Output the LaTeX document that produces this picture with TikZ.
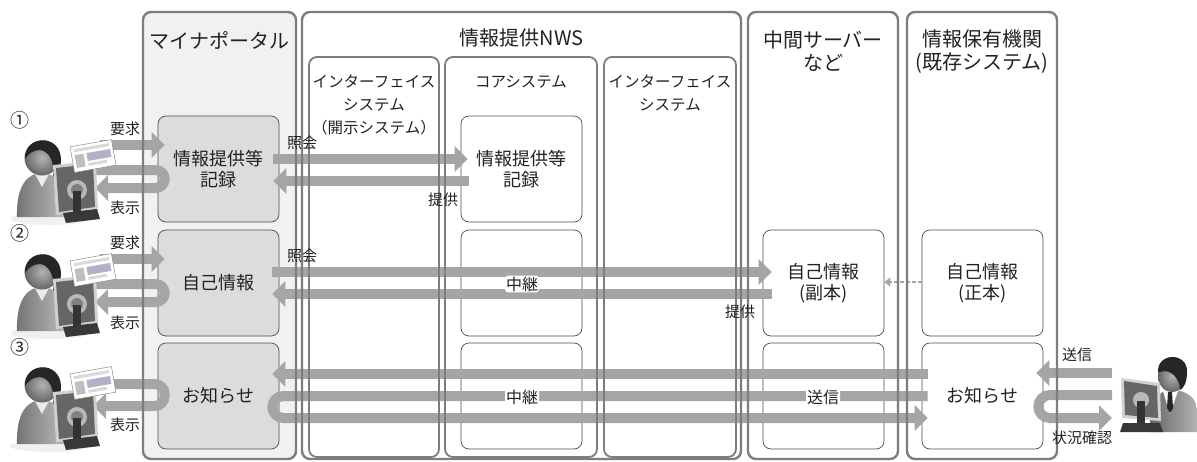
\documentclass[tikz,border=0pt]{standalone}
\usepackage{fontspec}
\setmainfont{Noto Sans CJK JP}
\usetikzlibrary{arrows.meta}

\definecolor{ink}{HTML}{222222}
\definecolor{frm}{HTML}{7D7D80}
\definecolor{flw}{HTML}{A5A5A8}
\definecolor{prt}{HTML}{F1F1F3}
\definecolor{prtbox}{HTML}{DCDCDE}

\tikzset{
  col/.style={draw=frm,line width=2.4pt,rounded corners=8pt},
  sub/.style={draw=frm,line width=1.8pt,rounded corners=8pt},
  rowbox/.style={draw=black!70,line width=.7pt,rounded corners=8pt,
    minimum width=121pt,minimum height=106pt,inner sep=0pt,align=center,
    text=ink,font=\fontsize{18}{21}\selectfont},
  flowbar/.style={draw=flw,line width=10pt},
  flowarr/.style={flowbar,-{Triangle[width=25pt,length=13pt]}},
  ttl/.style={text=ink,align=center,font=\fontsize{20}{23}\selectfont},
  subttl/.style={text=ink,align=center,font=\fontsize{15.5}{23}\selectfont},
  lbl/.style={text=ink,inner sep=1pt,font=\fontsize{15}{17}\selectfont},
  halo/.style={lbl,fill=white,rounded corners=3pt,font=\fontsize{16}{18}\selectfont},
  num/.style={text=ink,font=\fontsize{19}{21}\selectfont},
  % user at a desk, seen from behind the monitor, holding a card
  pics/kojin/.style={code={
    \fill[black!6] (50,50) ellipse (40 and 6);
    \shade[left color=black!55,right color=black!25] (17,48) .. controls (16,16) and (28,4) .. (42,4)
      .. controls (56,4) and (68,16) .. (68,48) -- cycle;
    \fill[black!8] (35,5) -- (49,5) -- (42,18) -- cycle;
    \shade[inner color=black!30,outer color=black!60] (42,-11) circle (17.5);
    \fill[black!85] (25,-10) .. controls (24,-34) and (60,-36) .. (61,-10)
      .. controls (61,0) and (57,6) .. (53,8) .. controls (55,-5) and (50,-18) .. (40,-19)
      .. controls (33,-19) and (28,-15) .. (25,-10) -- cycle;
    \fill[black!18] (53,-4) -- (96,-8) -- (98,41) -- (56,46) -- cycle;
    \fill[black!60] (56,-1) -- (93,-5) -- (95,38) -- (59,43) -- cycle;
    \fill[black!28] (77,21) circle (10);
    \fill[black!50] (77,21) circle (6);
    \fill[black!80] (73,22) rectangle (81,46);
    \fill[black!78] (63,44) -- (97,40) -- (100,50) -- (66,54) -- cycle;
    \begin{scope}[shift={(93,-13)},rotate=10]
      \filldraw[draw=black!45,line width=.5pt,fill=white] (-21,-13) rectangle (21,13);
      \fill[black!15] (-18,-10) rectangle (18,-7);
      \fill[black!25] (-18,-4) rectangle (-9,9);
      \fill[blue!25!black!30] (-6,-4) rectangle (18,4);
      \fill[black!15] (-6,6) rectangle (13,9);
    \end{scope}
  }}
}

\begin{document}
\begin{tikzpicture}[x=1pt,y=-1pt]
\useasboundingbox (0,0) rectangle (1197,461);
\fill[white] (0,0) rectangle (1197,461);

% column backgrounds
\fill[prt,rounded corners=8pt] (143,12) rectangle (296,459);

% boxes per row
\node[rowbox,fill=prtbox] (p1) at (218.5,169) {情報提供等\\記録};
\node[rowbox,fill=prtbox] (p2) at (218.5,283) {自己情報};
\node[rowbox,fill=prtbox] (p3) at (218.5,396) {お知らせ};
\node[rowbox] (c1) at (521.5,169) {情報提供等\\記録};
\node[rowbox] (c2) at (521.5,283) {};
\node[rowbox] (c3) at (521.5,396) {};
\node[rowbox] (m2) at (823.5,283) {自己情報\\(副本)};
\node[rowbox] (m3) at (823.5,396) {};
\node[rowbox] (h2) at (982.5,283) {自己情報\\(正本)};
\node[rowbox] (h3) at (982.5,396) {お知らせ};

\coordinate (u1) at (0,169);
\coordinate (u2) at (0,283);
\coordinate (u3) at (0,396);
\coordinate (mgr) at (1112,396);

% flows of row 1
\draw[flowarr] ([xshift=100pt,yshift=24pt]u1) -- ([xshift=7pt,yshift=24pt]p1.west);
\draw[flowarr,rounded corners=9pt] ([xshift=90pt,yshift=-1pt]u1) -- ([xshift=7pt,yshift=-1pt]p1.west)
  -- ([xshift=7pt,yshift=-19pt]p1.west) -- ([xshift=95pt,yshift=-19pt]u1);
\draw[flowarr] ([xshift=-6pt,yshift=10pt]p1.east) -- ([xshift=7pt,yshift=10pt]c1.west);
\draw[flowarr] ([xshift=8pt,yshift=-12pt]c1.west) -- ([xshift=-6pt,yshift=-12pt]p1.east);

% flows of row 2
\draw[flowarr] ([xshift=100pt,yshift=24pt]u2) -- ([xshift=7pt,yshift=24pt]p2.west);
\draw[flowarr,rounded corners=9pt] ([xshift=90pt,yshift=-1pt]u2) -- ([xshift=7pt,yshift=-1pt]p2.west)
  -- ([xshift=7pt,yshift=-19pt]p2.west) -- ([xshift=95pt,yshift=-19pt]u2);
\draw[flowarr] ([xshift=-7pt,yshift=11pt]p2.east) -- ([xshift=9pt,yshift=11pt]m2.west);
\draw[flowarr] ([xshift=9pt,yshift=-11pt]m2.west) -- ([xshift=-7pt,yshift=-11pt]p2.east);
\draw[flw,line width=2.5pt,dash pattern=on 4pt off 2pt,-{Triangle[width=9pt,length=6pt]}]
  ([yshift=1pt]h2.west) -- ([yshift=1pt]m2.east);

% flows of row 3
\draw[flowarr,rounded corners=10pt] ([xshift=90pt,yshift=12pt]u3) -- ([xshift=7pt,yshift=12pt]p3.west)
  -- ([xshift=7pt,yshift=-10pt]p3.west) -- ([xshift=93pt,yshift=-10pt]u3);
\draw[flowarr] ([xshift=6pt,yshift=22pt]h3.west) -- ([xshift=-7pt,yshift=22pt]p3.east);
\draw[flowarr,rounded corners=11pt] ([xshift=6pt]h3.west) -- ([xshift=-7pt]p3.east)
  -- ([xshift=-7pt,yshift=-22pt]p3.east) -- ([xshift=6pt,yshift=-22pt]h3.west);
\draw[flowarr] ([yshift=23pt]mgr) -- ([xshift=-7pt,yshift=23pt]h3.east);
\draw[flowarr,rounded corners=11.5pt] ([yshift=1pt]mgr) -- ([xshift=-5pt,yshift=1pt]h3.east)
  -- ([xshift=-5pt,yshift=-22pt]h3.east) -- ([yshift=-22pt]mgr);

% column frames
\draw[col] (143,12) rectangle (296,459);
\draw[col] (302,12) rectangle (741,459);
\draw[sub] (309,57) rectangle (439,457);
\draw[sub] (445,57) rectangle (597,457);
\draw[sub] (604,57) rectangle (736,457);
\draw[col] (748,12) rectangle (898,459);
\draw[col] (907,12) rectangle (1057,459);

% column titles
\node[ttl] (tp) at (219.5,40) {マイナポータル};
\node[ttl] (tn) at (521.5,38) {情報提供NWS};
\node[ttl] (tm) at (823,51.5) {中間サーバー\\など};
\node[ttl] (th) at (982,51.5) {情報保有機関\\(既存システム)};
\node[subttl] (ti1) at (374,105) {インターフェイス\\システム\\（開示システム）};
\node[subttl] (tc) at (521,82) {コアシステム};
\node[subttl] (ti2) at (670,93.5) {インターフェイス\\システム};

% users
\pic at (0,169) {kojin};
\pic at (0,283) {kojin};
\pic at (0,396) {kojin};

% staff member on the right
\shade[left color=black!60,right color=black!30] (1150,432) .. controls (1150,400) and (1158,390) .. (1172,390)
  .. controls (1186,390) and (1197,398) .. (1197,410) -- (1197,432) -- cycle;
\fill[white] (1163,391) -- (1178,391) -- (1170,414) -- cycle;
\fill[black!85] (1168,392) -- (1172,392) -- (1173,408) -- (1170,413) -- (1167,408) -- cycle;
\shade[inner color=black!30,outer color=black!60] (1172,376) ellipse (14 and 16);
\fill[black!85] (1158,372) .. controls (1157,352) and (1188,352) .. (1187,372)
  .. controls (1187,382) and (1184,388) .. (1180,390) .. controls (1180,378) and (1170,368) .. (1160,372) -- cycle;
\fill[black!18] (1121,378) -- (1160,383) -- (1161,421) -- (1122,418) -- cycle;
\fill[black!60] (1124,381) -- (1157,386) -- (1158,418) -- (1125,415) -- cycle;
\fill[black!28] (1141,400) circle (8);
\fill[black!80] (1137,401) rectangle (1145,426);
\fill[black!78] (1123,423) -- (1160,423) -- (1163,432) -- (1120,432) -- cycle;

% row numbers and labels
\node[num] (n1) at (20,120) {①};
\node[num] (n2) at (20,233) {②};
\node[num] (n3) at (20,347) {③};
\node[lbl] (q1) at (125,129) {要求};
\node[lbl] (q2) at (125,243) {要求};
\node[lbl] (d1) at (125,208) {表示};
\node[lbl] (d2) at (125,323) {表示};
\node[lbl] (d3) at (125,425) {表示};
\node[lbl] (s1) at (302,143) {照会};
\node[lbl] (s2) at (302,256) {照会};
\node[lbl] (k1) at (443,200) {提供};
\node[lbl] (k2) at (740,312) {提供};
\node[halo] (r2) at (522,284) {中継};
\node[halo] (r3) at (522,397) {中継};
\node[halo] (o3) at (823,397) {送信};
\node[lbl] (o4) at (1077,355) {送信};
\node[lbl] (z3) at (1082,438) {状況確認};
\end{tikzpicture}
\end{document}
